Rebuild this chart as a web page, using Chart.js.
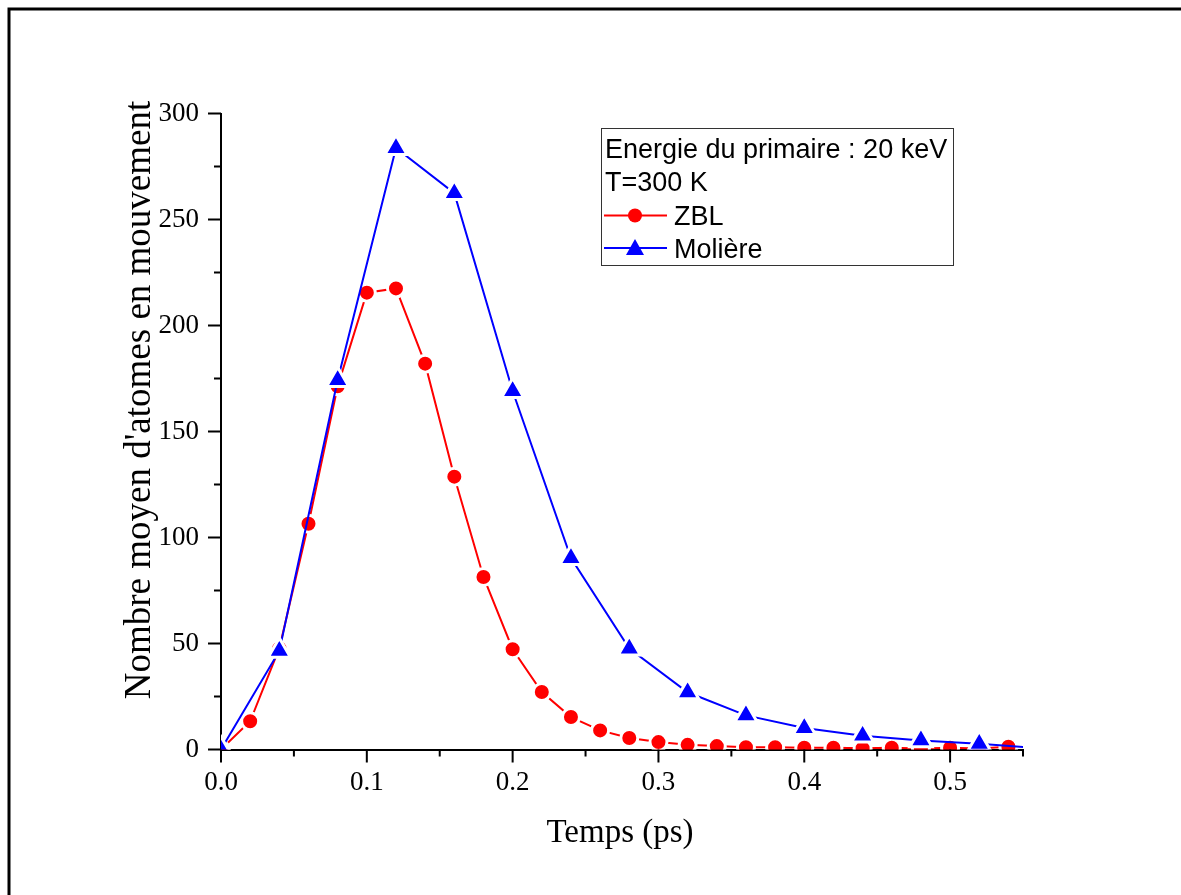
<!DOCTYPE html>
<html>
<head>
<meta charset="utf-8">
<script src="https://cdn.jsdelivr.net/npm/chart.js@4/dist/chart.umd.min.js"></script>
<style>
  html, body { margin: 0; padding: 0; background: #fff; }
  #wrap { position: relative; width: 1181px; height: 895px; }
</style>
</head>
<body>
<div id="wrap"><canvas id="c" width="1181" height="895"></canvas></div>
<script>
// ---- Data ----
const zblTime = [0, 0.02, 0.04, 0.06, 0.08, 0.10, 0.12, 0.14, 0.16, 0.18, 0.20, 0.22, 0.24, 0.26,
                 0.28, 0.30, 0.32, 0.34, 0.36, 0.38, 0.40, 0.42, 0.44, 0.46, 0.48, 0.50, 0.52, 0.54];
const zblValues = [0, 13.3, 47.8, 106.5, 171.3, 215.5, 217.5, 182, 128.7, 81.4, 47.3, 27.1, 15.3, 9,
                   5.4, 3.5, 2.2, 1.6, 1.1, 1.1, 0.8, 0.8, 0.6, 0.8, 0.5, 0.8, 0.5, 1.3];
const molTime = [0, 0.04, 0.08, 0.12, 0.16, 0.20, 0.24, 0.28, 0.32, 0.36, 0.40, 0.44, 0.48, 0.52, 0.56];
const molValues = [0, 46.5, 174.3, 283.7, 262.4, 169.1, 90.3, 47.6, 27, 16.1, 10.1, 6.5, 4.3, 2.7, 0.7];
const xTickLabels = ['0.0', '0.1', '0.2', '0.3', '0.4', '0.5'];
const yTickLabels = ['0', '50', '100', '150', '200', '250', '300'];
const legendHeader = ['Energie du primaire : 20 keV', 'T=300 K'];
const seriesNames = ['ZBL', 'Molière'];
const xTitle = 'Temps (ps)';
const yTitle = "Nombre moyen d'atomes en mouvement";

const RED = '#ff0000', BLUE = '#0000ff';

const zblPts = zblTime.map((t, i) => ({ x: t, y: zblValues[i] }));
const molPts = molTime.map((t, i) => ({ x: t, y: molValues[i] }));

const decorPlugin = {
  id: 'decor',
  afterDraw(chart) {
    const ctx = chart.ctx;
    const xs = chart.scales.x, ys = chart.scales.y;
    const ca = chart.chartArea;
    ctx.save();
    // outer frame (top + left)
    ctx.strokeStyle = '#000';
    ctx.lineWidth = 3;
    ctx.beginPath();
    ctx.moveTo(9, 895); ctx.lineTo(9, 9); ctx.lineTo(1181, 9);
    ctx.stroke();

    // ticks
    ctx.lineWidth = 2;
    ctx.strokeStyle = '#000';
    ctx.beginPath();
    for (let i = 0; i <= 11; i++) {
      const px = xs.getPixelForValue(i * 0.05);
      const len = (i % 2 === 0) ? 13 : 7;
      ctx.moveTo(px, ca.bottom); ctx.lineTo(px, ca.bottom + len);
    }
    for (let i = 0; i <= 12; i++) {
      const py = ys.getPixelForValue(i * 25);
      const len = (i % 2 === 0) ? 13 : 7;
      ctx.moveTo(ca.left, py); ctx.lineTo(ca.left - len, py);
    }
    ctx.stroke();

    // axis titles
    ctx.fillStyle = '#000';
    ctx.font = '33px "Liberation Serif"';
    ctx.textAlign = 'center';
    ctx.textBaseline = 'middle';
    ctx.fillText(xTitle, (ca.left + ca.right) / 2 - 2, 833);
    ctx.save();
    ctx.translate(140, 400);
    ctx.rotate(-Math.PI / 2);
    ctx.font = '37px "Liberation Serif"';
    ctx.fillText(yTitle, 0, 0);
    ctx.restore();

    // legend box
    const bx = 601.5, by = 128.5, bw = 352, bh = 137;
    ctx.fillStyle = '#fff';
    ctx.fillRect(bx, by, bw, bh);
    ctx.strokeStyle = '#333';
    ctx.lineWidth = 1;
    ctx.strokeRect(bx, by, bw, bh);
    ctx.fillStyle = '#000';
    ctx.font = '27px "Liberation Sans"';
    ctx.textAlign = 'left';
    ctx.textBaseline = 'alphabetic';
    ctx.fillText(legendHeader[0], 605, 158);
    ctx.fillText(legendHeader[1], 605, 191);
    ctx.fillText(seriesNames[0], 674, 225);
    ctx.fillText(seriesNames[1], 674, 258);
    // legend samples
    ctx.lineWidth = 2;
    ctx.strokeStyle = RED;
    ctx.beginPath(); ctx.moveTo(604, 215.5); ctx.lineTo(667, 215.5); ctx.stroke();
    ctx.fillStyle = RED;
    ctx.beginPath(); ctx.arc(635, 215.5, 7, 0, Math.PI * 2); ctx.fill();
    ctx.strokeStyle = BLUE;
    ctx.beginPath(); ctx.moveTo(604, 248); ctx.lineTo(667, 248); ctx.stroke();
    ctx.fillStyle = BLUE;
    ctx.beginPath();
    ctx.moveTo(635, 239); ctx.lineTo(644, 255); ctx.lineTo(626, 255); ctx.closePath(); ctx.fill();
    ctx.restore();
  }
};

new Chart(document.getElementById('c'), {
  type: 'scatter',
  data: {
    datasets: [
      {
        label: seriesNames[1],
        data: molPts,
        showLine: true,
        borderColor: BLUE,
        borderWidth: 2,
        backgroundColor: BLUE,
        pointStyle: 'triangle',
        pointRadius: 12.8,
        pointBorderWidth: 3,
        pointBorderColor: '#fff',
        pointBackgroundColor: BLUE,
        tension: 0
      },
      {
        label: seriesNames[0],
        data: zblPts,
        showLine: true,
        borderColor: RED,
        borderWidth: 2,
        backgroundColor: RED,
        pointStyle: 'circle',
        pointRadius: 8.5,
        pointBorderWidth: 3,
        pointBorderColor: '#fff',
        pointBackgroundColor: RED,
        tension: 0
      }
    ]
  },
  options: {
    responsive: false,
    animation: false,
    events: [],
    layout: { padding: { left: 0, top: 113.5, right: 158, bottom: 0 } },
    plugins: { legend: { display: false }, tooltip: { enabled: false } },
    scales: {
      x: {
        type: 'linear',
        min: 0, max: 0.55,
        grid: { display: false },
        border: { display: true, color: '#000', width: 2 },
        ticks: {
          stepSize: 0.1,
          includeBounds: false,
          autoSkip: false,
          maxRotation: 0,
          padding: 9,
          color: '#000',
          font: { family: '"Liberation Serif"', size: 27 },
          callback: (v) => {
            const i = Math.round(v * 10);
            return (Math.abs(v * 10 - i) < 1e-6 && xTickLabels[i] !== undefined) ? xTickLabels[i] : '';
          }
        },
        afterFit: (s) => { s.height = 895 - 749.5; }
      },
      y: {
        type: 'linear',
        min: 0, max: 300,
        grid: { display: false },
        border: { display: true, color: '#000', width: 2 },
        ticks: {
          stepSize: 50,
          padding: 14,
          color: '#000',
          font: { family: '"Liberation Serif"', size: 27 },
          callback: (v) => {
            const i = Math.round(v / 50);
            return yTickLabels[i] !== undefined ? yTickLabels[i] : '';
          }
        },
        afterFit: (s) => { s.width = 221; }
      }
    }
  },
  plugins: [decorPlugin]
});
</script>
</body>
</html>
